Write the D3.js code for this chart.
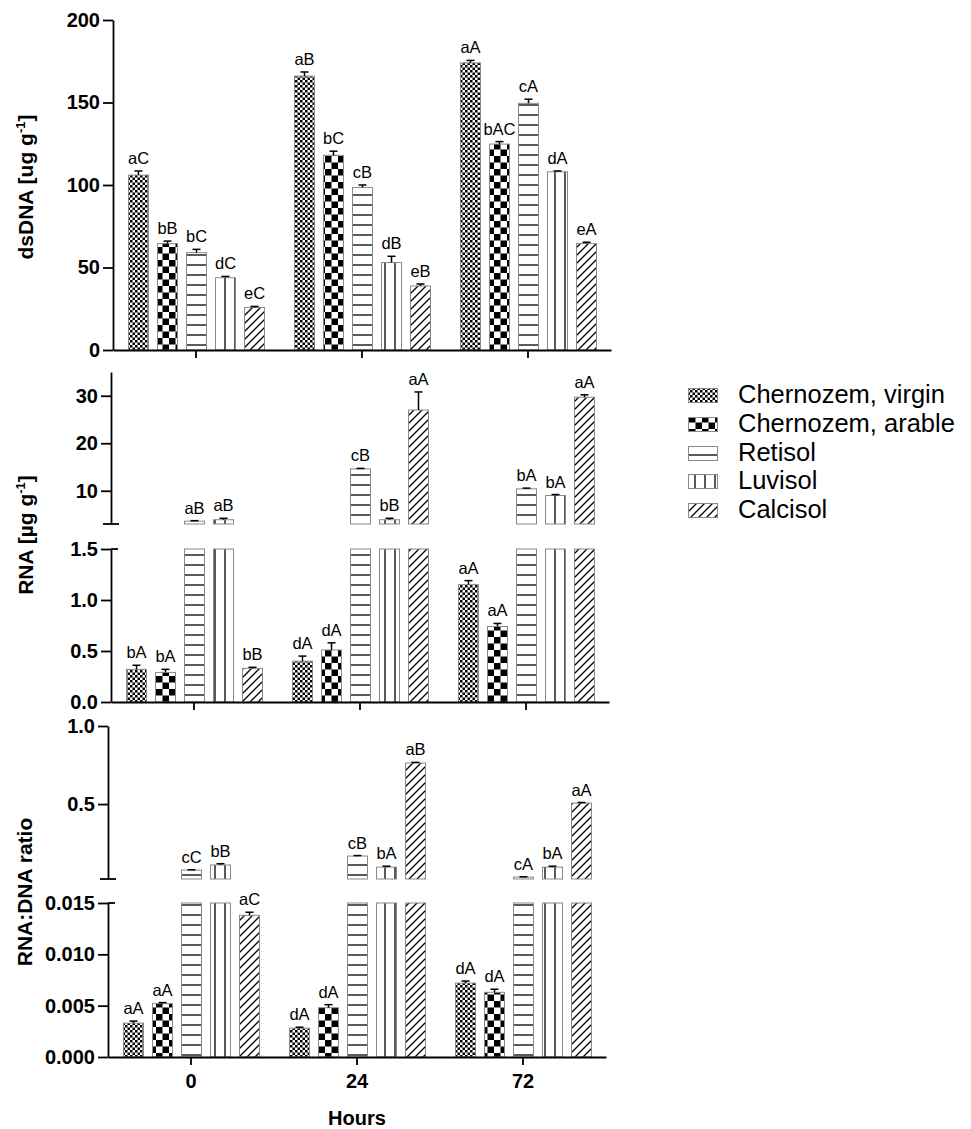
<!DOCTYPE html>
<html>
<head>
<meta charset="utf-8">
<script src="https://cdn.jsdelivr.net/npm/d3@7"></script>
<style>
body { margin: 0; background: #fff; }
text { font-family: "Liberation Sans", Arial, sans-serif; }
</style>
</head>
<body>
<div class="chart"></div>
<script>
var hours = ["0", "24", "72"]
var soils = ["Chernozem, virgin", "Chernozem, arable", "Retisol", "Luvisol", "Calcisol"]

// rows = soils, columns = hours
var dnaMean = [[106, 166, 174], [64.5, 118, 124.8], [59, 98.5, 149.5], [43.8, 53, 108], [25.8, 38.8, 64.5]]
var dnaErr = [[2.5, 2.5, 1.5], [1.5, 2.5, 1.5], [2, 1.5, 2.5], [0.8, 3.8, 0.5], [0.6, 1.2, 0.8]]
var dnaLetters = [["aC", "aB", "aA"], ["bB", "bC", "bAC"], ["bC", "cB", "cA"], ["dC", "dB", "dA"], ["eC", "eB", "eA"]]

var rnaMean = [[0.32, 0.40, 1.15], [0.29, 0.51, 0.74], [3.6, 14.6, 10.4], [3.9, 3.9, 9.0], [0.33, 27, 29.7]]
var rnaErr = [[0.04, 0.05, 0.04], [0.03, 0.07, 0.03], [0.1, 0.1, 0.15], [0.3, 0.3, 0.2], [0.01, 3.8, 0.5]]
var rnaLetters = [["bA", "dA", "aA"], ["bA", "dA", "aA"], ["aB", "cB", "bA"], ["aB", "bB", "bA"], ["bB", "aA", "aA"]]

var ratioMean = [[0.0033, 0.0028, 0.0072], [0.0052, 0.0048, 0.0063], [0.077, 0.167, 0.032], [0.11, 0.096, 0.096], [0.0138, 0.763, 0.506]]
var ratioErr = [[0.0002, 0.0001, 0.0002], [0.0001, 0.0003, 0.0003], [0.002, 0.003, 0.002], [0.008, 0.006, 0.006], [0.0003, 0.004, 0.004]]
var ratioLetters = [["aA", "dA", "dA"], ["aA", "dA", "dA"], ["cC", "cB", "cA"], ["bB", "bA", "bA"], ["aC", "aB", "aA"]]

var dnaTicks = [0, 50, 100, 150, 200]
var rnaTicksLow = [0, 0.5, 1.0, 1.5]
var rnaTicksHigh = [10, 20, 30]
var ratioTicksLow = [0, 0.005, 0.010, 0.015]
var ratioTicksHigh = [0.5, 1.0]

var svg = d3.select(".chart")
    .append("svg")
    .attr("width", 971)
    .attr("height", 1129)

// fill patterns
var defs = svg.append("defs")
function pattern(id, w, h) {
    var p = defs.append("pattern")
        .attr("id", id)
        .attr("patternUnits", "userSpaceOnUse")
        .attr("width", w)
        .attr("height", h)
    p.append("rect").attr("width", w).attr("height", h).attr("fill", "#fff")
    return p
}
var p0 = pattern("p0", 5, 5)
p0.append("rect").attr("width", 2.5).attr("height", 2.5)
p0.append("rect").attr("x", 2.5).attr("y", 2.5).attr("width", 2.5).attr("height", 2.5)
var p1 = pattern("p1", 13, 13)
p1.append("rect").attr("width", 6.5).attr("height", 6.5)
p1.append("rect").attr("x", 6.5).attr("y", 6.5).attr("width", 6.5).attr("height", 6.5)
var p2 = pattern("p2", 10, 10)
p2.append("line").attr("x1", 0).attr("x2", 10).attr("y1", 5).attr("y2", 5).attr("stroke", "#000").attr("stroke-width", 1.3)
var p3 = pattern("p3", 10, 10)
p3.append("line").attr("x1", 5).attr("x2", 5).attr("y1", 0).attr("y2", 10).attr("stroke", "#000").attr("stroke-width", 1.3)
var p4 = pattern("p4", 8, 8)
p4.append("path").attr("d", "M0,8L8,0M-2,2L2,-2M6,10L10,6").attr("stroke", "#000").attr("stroke-width", 1.3)

var panels = [
    { mean: dnaMean, err: dnaErr, letters: dnaLetters, x0: 113, x1: 611, base: 350, labels: false,
      segs: [{ lo: 0, hi: 200, y0: 350, y1: 20, ticks: dnaTicks, fmt: d3.format("d") }] },
    { mean: rnaMean, err: rnaErr, letters: rnaLetters, x0: 111, x1: 609, base: 702, labels: false,
      segs: [{ lo: 0, hi: 1.5, y0: 702, y1: 549, ticks: rnaTicksLow, fmt: d3.format(".1f"), capTop: true },
             { lo: 3, hi: 35, y0: 524, y1: 372, ticks: rnaTicksHigh, fmt: d3.format("d"), capBottom: true }] },
    { mean: ratioMean, err: ratioErr, letters: ratioLetters, x0: 108, x1: 606, base: 1057, labels: true,
      segs: [{ lo: 0, hi: 0.015, y0: 1057, y1: 903, ticks: ratioTicksLow, fmt: d3.format(".3f"), capTop: true },
             { lo: 0.02, hi: 1.0, y0: 879, y1: 726, ticks: ratioTicksHigh, fmt: d3.format(".1f"), capBottom: true }] }
]

panels.forEach(function (p) {
    var xg = d3.scaleBand().domain(hours).range([p.x0, p.x1])
    var xs = d3.scaleBand().domain(soils).range([0, xg.bandwidth()])
        .paddingInner(0.31).paddingOuter(0.517)
    p.segs.forEach(function (s) {
        s.y = d3.scaleLinear().domain([s.lo, s.hi]).range([s.y0, s.y1])
    })

    var bars = svg.append("g")
    soils.forEach(function (soil, si) {
        hours.forEach(function (h, hi) {
            var v = p.mean[si][hi], e = p.err[si][hi]
            var bx = Math.round(xg(h) + xs(soil)) + 0.5, bw = Math.round(xs.bandwidth())
            var cx = bx + bw / 2
            p.segs.forEach(function (s) {
                if (v <= s.lo) return
                var top = s.y(Math.min(v, s.hi))
                bars.append("rect")
                    .attr("x", bx)
                    .attr("y", top)
                    .attr("width", bw)
                    .attr("height", s.y(s.lo) - top)
                    .attr("fill", "url(#p" + si + ")")
                    .attr("stroke", "#8a8a8a")
                    .attr("stroke-width", 1)
                if (v > s.hi) return
                var ye = s.y(v + e)
                bars.append("line")
                    .attr("x1", cx).attr("x2", cx)
                    .attr("y1", s.y(v)).attr("y2", ye)
                    .style("stroke", "black").style("stroke-width", 1.5)
                bars.append("line")
                    .attr("x1", cx - 4).attr("x2", cx + 4)
                    .attr("y1", ye).attr("y2", ye)
                    .style("stroke", "black").style("stroke-width", 1.5)
                bars.append("text")
                    .attr("x", cx)
                    .attr("y", ye - 7)
                    .attr("text-anchor", "middle")
                    .style("font-size", "16.5px")
                    .attr("fill", "black")
                    .text(p.letters[si][hi])
            })
        })
    })

    // y axis segments
    p.segs.forEach(function (s) {
        var ax = svg.append("g")
            .attr("transform", "translate(" + p.x0 + ",0)")
            .call(d3.axisLeft(s.y).tickValues(s.ticks).tickFormat(s.fmt).tickSize(10).tickSizeOuter(0))
        ax.select(".domain").style("stroke-width", 1.8)
        ax.selectAll(".tick line").style("stroke-width", 1.8)
        ax.selectAll(".tick text")
            .style("font-size", "20px")
            .style("font-weight", "bold")
            .attr("font-family", "Liberation Sans, Arial, sans-serif")
            .attr("fill", "black")
        if (s.capTop) {
            svg.append("line")
                .attr("x1", p.x0).attr("x2", p.x0 + 7)
                .attr("y1", s.y1).attr("y2", s.y1)
                .style("stroke", "black").style("stroke-width", 1.8)
        }
        if (s.capBottom) {
            svg.append("line")
                .attr("x1", p.x0 - 8).attr("x2", p.x0 + 8)
                .attr("y1", s.y0).attr("y2", s.y0)
                .style("stroke", "black").style("stroke-width", 1.8)
        }
    })

    // x axis
    var xa = svg.append("g")
        .attr("transform", "translate(0," + p.base + ")")
        .call(d3.axisBottom(xg).tickSize(8).tickSizeOuter(0).tickPadding(9))
    xa.select(".domain").style("stroke-width", 1.8)
    xa.selectAll(".tick line").style("stroke-width", 1.8)
    xa.selectAll(".tick text")
        .style("font-size", "20px")
        .style("font-weight", "bold")
        .attr("font-family", "Liberation Sans, Arial, sans-serif")
        .attr("fill", "black")
    if (!p.labels) xa.selectAll(".tick text").remove()
})

// axis titles
function yTitle(x, y, before, sup, after) {
    var t = svg.append("text")
        .attr("transform", "translate(" + x + "," + y + ") rotate(-90)")
        .attr("text-anchor", "middle")
        .style("font-size", "21px")
        .style("font-weight", "bold")
        .attr("fill", "black")
    t.append("tspan").text(before)
    if (sup) {
        t.append("tspan").attr("dy", -8).style("font-size", "13px").text(sup)
        t.append("tspan").attr("dy", 8).text(after)
    }
}
yTitle(33, 187, "dsDNA [ug g", "-1", "]")
yTitle(33, 535, "RNA [\u00b5g g", "-1", "]")
yTitle(32, 892, "RNA:DNA ratio")

svg.append("text")
    .attr("x", 357)
    .attr("y", 1125)
    .attr("text-anchor", "middle")
    .style("font-size", "20px")
    .style("font-weight", "bold")
    .attr("fill", "black")
    .text("Hours")

// legend
var legend = svg.append("g")
soils.forEach(function (soil, i) {
    var by = 403 + i * 28.8
    legend.append("rect")
        .attr("x", 688.5).attr("y", Math.round(by - 15) + 0.5)
        .attr("width", 29).attr("height", 14)
        .attr("fill", "url(#p" + i + ")")
        .attr("stroke", "#8a8a8a")
    legend.append("text")
        .attr("x", 738)
        .attr("y", by)
        .style("font-size", "25.5px")
        .attr("fill", "black")
        .text(soil)
})
</script>
</body>
</html>
